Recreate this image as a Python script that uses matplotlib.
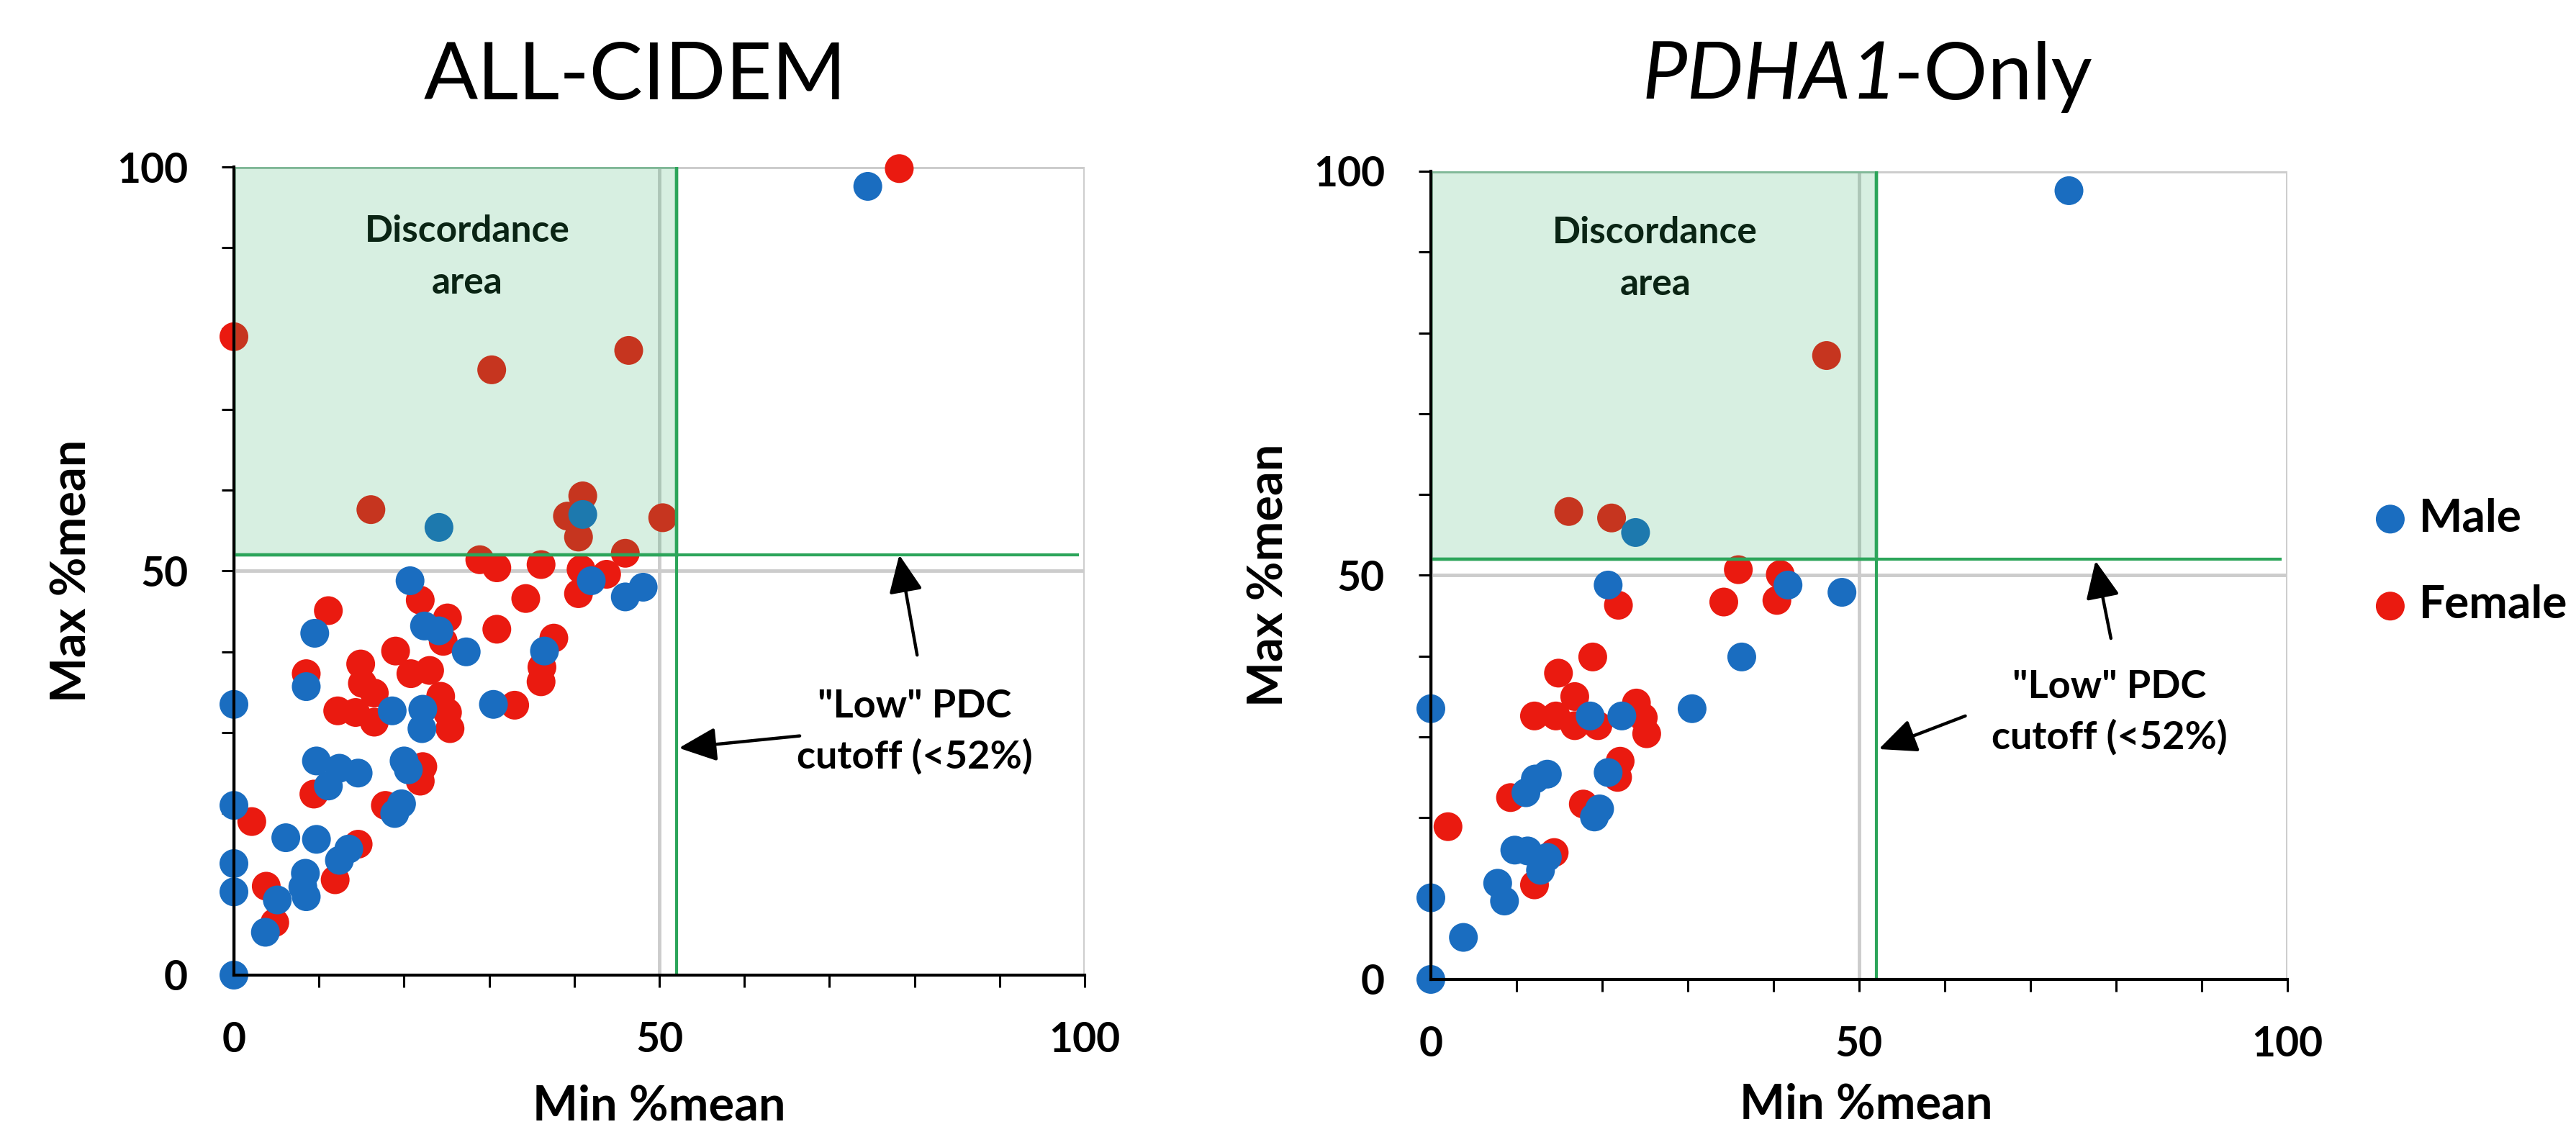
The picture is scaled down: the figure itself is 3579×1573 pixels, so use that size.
import numpy as np
import matplotlib
matplotlib.use("Agg")
import matplotlib.pyplot as plt
from matplotlib.patches import Rectangle

plt.rcParams['font.family'] = ['Lato', 'DejaVu Sans']
plt.rcParams['font.weight'] = 'bold'

# ---------------- data ----------------
title_left = "ALL-CIDEM"
title_right_italic = "PDHA1"
title_right_rest = "-Only"
series_names = ["Male", "Female"]
cutoff = 52
x_label = "Min %mean"
y_label = "Max %mean"
tick_major = [0, 50, 100]

all_male_x = [0, 0, 0, 0, 0, 3.7, 5.1, 6.1, 8.1, 8.4, 8.5, 9.7, 13.5, 12.4, 9.5, 8.5, 9.7,
              11.1, 12.4, 14.6, 18.6, 18.9, 19.7, 20.0, 20.5, 22.2, 22.1, 22.4, 24.1, 20.7,
              24.1, 27.3, 30.5, 36.5, 41.0, 42.0, 46.0, 48.1, 74.5]
all_male_y = [0, 10.3, 13.8, 21.0, 33.5, 5.3, 9.3, 17.0, 10.9, 12.6, 9.7, 16.8, 15.6, 14.2,
              42.3, 35.7, 26.5, 23.4, 25.6, 25.0, 32.7, 20.0, 21.2, 26.5, 25.4, 32.9, 30.5,
              43.2, 42.6, 48.8, 55.4, 40.0, 33.5, 40.1, 57.0, 48.8, 46.8, 48.0, 97.6]

all_female_x = [0, 2.1, 3.8, 4.8, 8.5, 9.4, 11.1, 11.9, 12.2, 14.3, 14.6, 14.9, 15.1, 16.5,
                16.5, 16.1, 17.8, 19.0, 20.8, 21.9, 21.9, 22.2, 23.0, 24.3, 24.6, 25.1, 25.1,
                25.4, 28.9, 30.3, 30.9, 30.9, 33.0, 34.3, 36.1, 36.2, 36.1, 37.6, 39.2, 40.5,
                40.8, 40.5, 41.0, 43.8, 46.0, 46.4, 50.4, 78.2]
all_female_y = [79.0, 19.0, 11.0, 6.5, 37.3, 22.4, 45.1, 11.8, 32.7, 32.5, 16.2, 38.5, 36.1,
                34.9, 31.3, 57.6, 21.0, 40.1, 37.3, 46.4, 24.0, 25.8, 37.7, 34.5, 41.3, 44.2,
                32.5, 30.5, 51.4, 74.9, 50.4, 42.8, 33.4, 46.6, 50.8, 38.1, 36.3, 41.7, 56.8,
                54.2, 50.2, 47.2, 59.3, 49.6, 52.2, 77.3, 56.6, 99.8]

pdha_male_x = [0, 0, 0, 3.8, 7.8, 8.6, 9.8, 11.3, 13.6, 12.8, 11.1, 12.2, 13.6, 18.6, 19.1,
               19.7, 20.7, 20.7, 22.3, 23.9, 30.5, 36.3, 41.7, 48.0, 74.5]
pdha_male_y = [0, 10.1, 33.5, 5.2, 11.9, 9.7, 16.0, 15.9, 15.1, 13.5, 23.1, 24.8, 25.4, 32.6,
               20.1, 21.1, 25.6, 48.8, 32.6, 55.3, 33.5, 39.9, 48.8, 47.9, 97.6]

pdha_female_x = [2.0, 9.3, 12.1, 12.1, 14.4, 14.6, 14.9, 16.8, 16.8, 16.1, 17.8, 18.9, 19.5,
                 21.1, 21.8, 22.1, 21.9, 24.0, 24.8, 25.2, 34.2, 35.9, 40.4, 40.8, 46.2]
pdha_female_y = [18.9, 22.5, 11.7, 32.6, 15.7, 32.6, 37.9, 35.0, 31.4, 57.9, 21.7, 39.9, 31.4,
                 57.1, 25.0, 27.0, 46.3, 34.2, 32.4, 30.4, 46.7, 50.7, 46.9, 50.1, 77.2]

# ---------------- style ----------------
BLUE = "#1a6dc0"
RED = "#ea1a10"
GREEN = "#2ca55a"
GRID = "#cccccc"

fig = plt.figure(figsize=(35.8, 15.73), dpi=100)
renderer = fig.canvas.get_renderer()

axes_rects = [[0.09078, 0.1386, 0.3302, 0.7139],
              [0.5553, 0.1348, 0.3324, 0.7139]]
title_x = [0.2466, 0.7254]
title_y = 0.9123
ylabel_x = [-0.190, -0.189]
xlabel_pos = [(0.5, -0.135), (0.508, -0.128)]
disc_pos = [(27.4, 90.7, 84.3), (26.2, 91.1, 84.7)]
note_pos = [(80.0, 31.9, 25.6), (79.2, 34.8, 28.5)]
up_arrow = [((80.3, 39.6), (78.2, 52.0)), ((79.4, 42.2), (77.6, 51.8))]
left_arrow = [((66.5, 29.6), (52.3, 28.1)), ((62.4, 32.6), (52.3, 28.5))]

datasets = [(all_male_x, all_male_y, all_female_x, all_female_y),
            (pdha_male_x, pdha_male_y, pdha_female_x, pdha_female_y)]

handles = None
for i, (mx, my, fx, fy) in enumerate(datasets):
    ax = fig.add_axes(axes_rects[i])
    ax.set_xlim(0, 100)
    ax.set_ylim(0, 100)
    ax.set_xticks(tick_major)
    ax.set_yticks(tick_major)
    ax.set_xticks(np.arange(0, 101, 10), minor=True)
    ax.set_yticks(np.arange(0, 101, 10), minor=True)
    ax.tick_params(which='both', direction='out', length=12, width=2.2, color='black')
    ax.tick_params(which='major', labelsize=41, pad=34)
    for s in ['top', 'right']:
        ax.spines[s].set_visible(False)
    for s in ['left', 'bottom']:
        ax.spines[s].set_linewidth(3)
        ax.spines[s].set_zorder(6)
    ax.set_axisbelow(True)
    ax.grid(True, which='major', color=GRID, lw=3.5)

    hf = ax.scatter(fx, fy, s=830, c=RED, edgecolors='none', zorder=2.5, clip_on=False)
    hm = ax.scatter(mx, my, s=830, c=BLUE, edgecolors='none', zorder=3, clip_on=False)
    if i == 1:
        handles = [hm, hf]

    # discordance area
    ax.add_patch(Rectangle((0, cutoff), cutoff, 100 - cutoff,
                           facecolor=(0.17, 0.68, 0.38, 0.19),
                           edgecolor=(0.17, 0.62, 0.36, 0.35), lw=4, zorder=4))
    ax.plot([cutoff, cutoff], [0, 100], color=GREEN, lw=3, zorder=5, solid_capstyle='butt')
    ax.plot([0, 99.3], [cutoff, cutoff], color=GREEN, lw=3, zorder=5, solid_capstyle='butt')

    dx, dy1, dy2 = disc_pos[i]
    ax.text(dx, dy1, "Discordance", ha='center', va='baseline', fontsize=37,
            fontweight='bold', color='#0a2414', zorder=6)
    ax.text(dx, dy2, "area", ha='center', va='baseline', fontsize=37,
            fontweight='bold', color='#0a2414', zorder=6)

    nx, ny1, ny2 = note_pos[i]
    ax.text(nx, ny1, '"Low" PDC', ha='center', va='baseline', fontsize=39,
            fontweight='bold', color='black', zorder=6)
    ax.text(nx, ny2, 'cutoff (<52%)', ha='center', va='baseline', fontsize=39,
            fontweight='bold', color='black', zorder=6)

    for tail, head in (up_arrow[i], left_arrow[i]):
        ax.annotate('', xy=head, xytext=tail,
                    arrowprops=dict(arrowstyle='-|>,head_length=1.6,head_width=0.72',
                                    mutation_scale=20, lw=3.2, color='black',
                                    shrinkA=0, shrinkB=0), zorder=7)

    ax.set_ylabel(y_label, fontsize=48, fontweight='bold', va='center')
    ax.yaxis.set_label_coords(ylabel_x[i], 0.5)
    ax.set_xlabel(x_label, fontsize=48, fontweight='bold')
    ax.xaxis.set_label_coords(*xlabel_pos[i])

# titles
fig.text(title_x[0], title_y, title_left, ha='center', va='baseline', fontsize=80,
         fontweight='normal')
t1 = fig.text(0, title_y, title_right_italic, ha='left', va='baseline', fontsize=80,
              style='italic', fontweight='normal')
t2 = fig.text(0, title_y, title_right_rest, ha='left', va='baseline', fontsize=80,
              fontweight='normal')
W = fig.get_figwidth() * fig.dpi
w1 = t1.get_window_extent(renderer).width / W
w2 = t2.get_window_extent(renderer).width / W
x_start = title_x[1] - (w1 + w2) / 2
t1.set_x(x_start)
t2.set_x(x_start + w1 - 0.0015)

fig.legend(handles=handles, labels=series_names, loc='center left',
           bbox_to_anchor=(0.9221, 0.5041), frameon=False, handlelength=0.62,
           handletextpad=0.31, borderpad=0, borderaxespad=0, labelspacing=1.0,
           prop={'weight': 'bold', 'size': 46}, scatterpoints=1)

fig.savefig("out.png", dpi=100)
